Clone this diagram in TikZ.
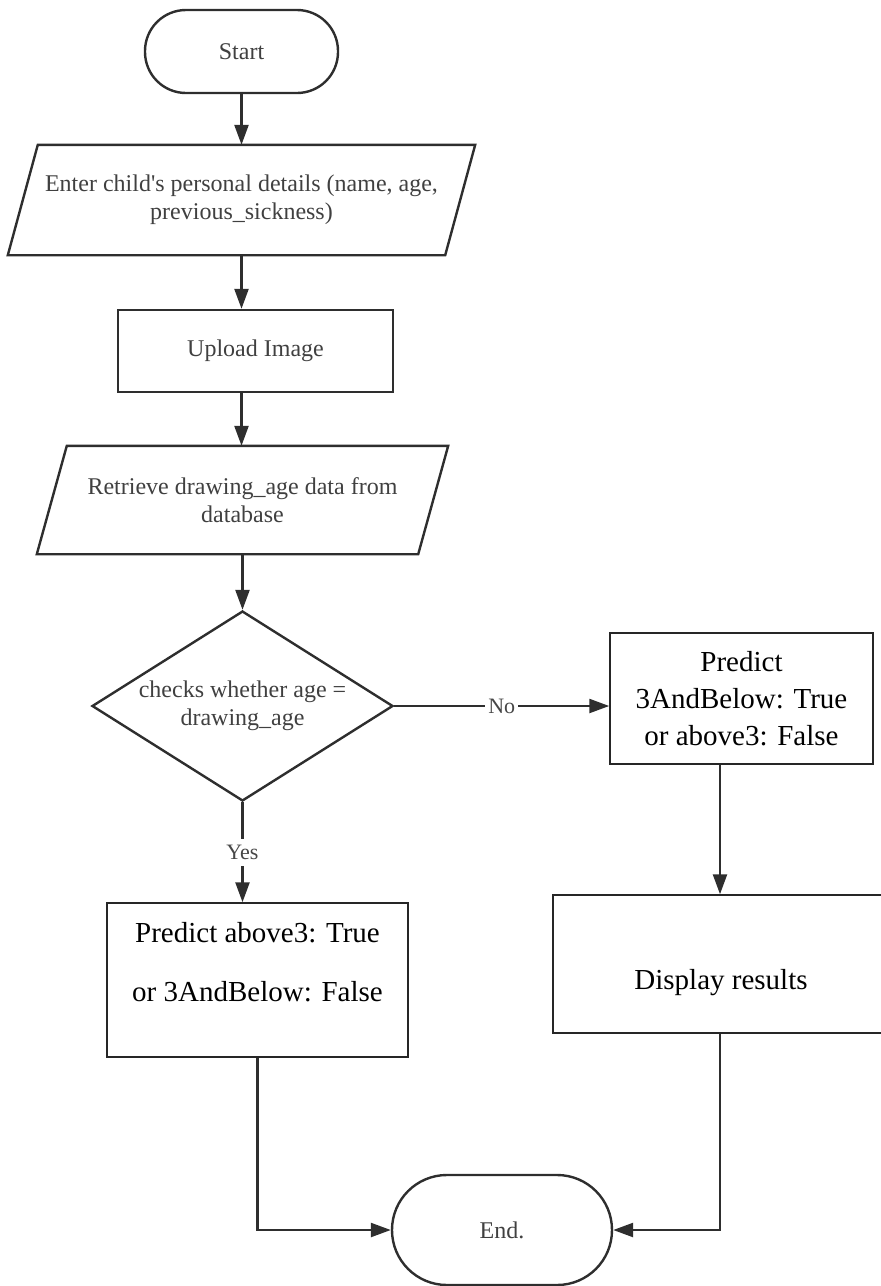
\documentclass[tikz,border=0pt]{standalone}
\usepackage{fontspec}
\setmainfont{Liberation Serif}[Ligatures=TeX]
\newfontfamily\timesface{Liberation Serif}
\usetikzlibrary{arrows.meta,shapes.geometric,calc}

\begin{document}
\begin{tikzpicture}[x=1pt,y=-1pt,
  uppertext/.style={font=\timesface\fontsize{24}{28}\selectfont, text=black!75, align=center},
  lowertext/.style={font=\timesface\fontsize{29}{37}\selectfont, text=black, align=center},
  terminal/.style={draw=black!82, line width=2.4pt, rounded corners=#1, inner sep=0pt, uppertext},
  procbox/.style={draw=black!82, line width=2.4pt, inner sep=0pt, uppertext},
  iobox/.style={inner sep=0pt, uppertext},
  ioline/.style={draw=black!82, line width=2.4pt},
  decision/.style={diamond, draw=black!82, line width=2.4pt, inner sep=0pt, shape aspect=1.59, uppertext},
  resultbox/.style={draw=black!85, line width=1.5pt, inner sep=0pt},
  arr/.style={draw=black!82, line width=2.4pt, -{Triangle[length=20pt,width=14pt]}},
  branch/.style={fill=white, inner xsep=3pt, inner ysep=6pt, font=\timesface\fontsize{22}{26}\selectfont, text=black!72}
]
\useasboundingbox (0,0) rectangle (881,1286);

% terminals, input/output and process steps of the main column
\node[terminal=41pt, minimum width=193pt, minimum height=83pt] (start) at (241.5,51.5) {Start};

\node[iobox, minimum width=467pt, minimum height=110pt] (p1) at (241.5,200) {Enter child's personal details (name, age,\\previous\_sickness)};
\draw[ioline] ($(p1.north west)+(30,0)$) -- (p1.north east) -- ($(p1.south east)+(-30,0)$) -- (p1.south west) -- cycle;

\node[procbox, minimum width=275pt, minimum height=82pt] (up) at (255.5,351) {Upload Image};

\node[iobox, minimum width=411pt, minimum height=108pt] (p2) at (242.5,500) {Retrieve drawing\_age data from\\database};
\draw[ioline] ($(p2.north west)+(30,0)$) -- (p2.north east) -- ($(p2.south east)+(-30,0)$) -- (p2.south west) -- cycle;

\node[decision, minimum width=301pt, minimum height=190pt] (dia) at (242.5,706) {checks whether age =\\drawing\_age};

% result boxes
\node[resultbox, lowertext, minimum width=263pt, minimum height=131pt] (pr) at (741.5,698.5) {Predict\\3AndBelow: True\\or above3: False};

\node[resultbox, minimum width=301pt, minimum height=154pt] (yb) at (257.5,980) {};
\node[lowertext, font=\timesface\fontsize{29}{59}\selectfont] (yt) at (257.5,962.5) {Predict above3: True\\or 3AndBelow: False};

\node[resultbox, minimum width=334pt, minimum height=138pt] (disp) at (720,964) {};
\node[lowertext] (dt) at (721,983) {Display results};

\node[terminal=54.9pt, minimum width=220pt, minimum height=110pt] (end) at (502,1230) {End.};

% connectors
\draw[arr] (start.south) -- (start.south |- p1.north);
\draw[arr] (p1.south) -- (p1.south |- up.north);
\draw[arr] (p1.south |- up.south) -- (p1.south |- p2.north);
\draw[arr] (p2.south) -- (p2.south |- dia.north);
\draw[arr] (dia.east) -- node[branch] {No} (dia.east -| pr.west);
\draw[arr] (dia.south) -- node[branch] {Yes} (dia.south |- yb.north);
\draw[arr] (pr.south -| disp.north) -- (disp.north);
\draw[arr] (yb.south) |- (end.west);
\draw[arr] (disp.south) |- (end.east);
\end{tikzpicture}
\end{document}
